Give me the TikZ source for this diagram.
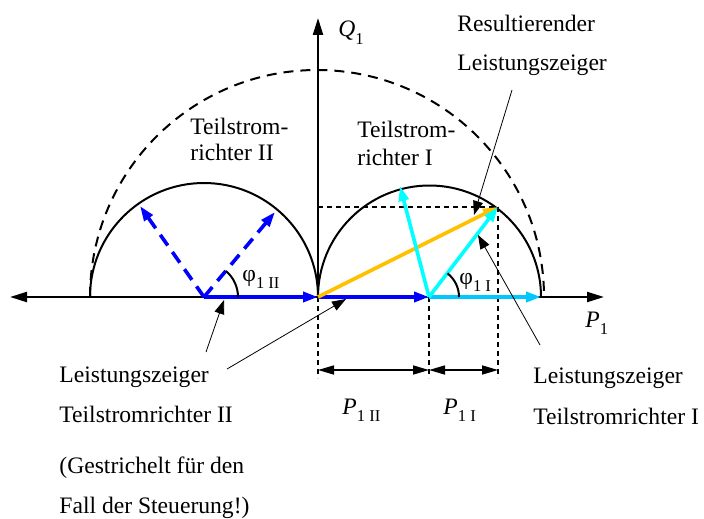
\documentclass[tikz,border=0pt]{standalone}
\usepackage{fontspec}
\setmainfont{Liberation Serif}
\usetikzlibrary{arrows.meta}
\newcommand{\lsub}[1]{\raisebox{-0.3em}{\fontsize{8.3pt}{8.3pt}\selectfont #1}}
\definecolor{vblue}{RGB}{0,0,255}
\definecolor{vcyan}{RGB}{0,255,255}
\definecolor{vsky}{RGB}{0,200,255}
\definecolor{vyellow}{RGB}{255,192,0}
\begin{document}
\begin{tikzpicture}[x=0.5pt,y=-0.5pt,
  txt/.style={anchor=base west,inner sep=0pt,font=\fontsize{11.8pt}{14pt}\selectfont},
  axisline/.style={line width=1.1pt},
  tipbig/.style={},
  circ/.style={line width=1pt},
  bigcirc/.style={line width=1pt,dash pattern=on 5pt off 3.5pt},
  helpline/.style={line width=0.55pt,dash pattern=on 2.5pt off 2pt},
  vec/.style={line width=1.8pt,-{Triangle[length=7.5pt,width=5pt]}},
  dvec/.style={vec,dash pattern=on 6.5pt off 4pt},
  ptr/.style={line width=0.4pt,-{Triangle[length=7pt,width=5pt]}},
  dimline/.style={line width=0.8pt,{Triangle[length=8pt,width=4.5pt]}-{Triangle[length=8pt,width=4.5pt]}},
  ang/.style={line width=1pt}
]
\useasboundingbox (0,0) rectangle (704,518);
% key points
\coordinate (O) at (318,297);
\coordinate (CL) at (204,297);
\coordinate (CR) at (429,297);
\coordinate (T) at (498,207);
\coordinate (TQ) at (318,207);
\coordinate (XL) at (10,297);
\coordinate (XR) at (604,297);
\coordinate (YT) at (318,18);
\coordinate (LL) at (90,297);
\coordinate (RR) at (541,297);
\coordinate (DL1) at (140,206);
\coordinate (DL2) at (275,212);
\coordinate (CU) at (400,186);
\coordinate (OD) at (318,378);
\coordinate (CRD) at (429,378);
\coordinate (TD) at (498,378);
\coordinate (D1) at (318,370);
\coordinate (D2) at (429,370);
\coordinate (D3) at (498,370);
% circles
\draw[bigcirc] (LL) arc[start angle=180,end angle=360,radius=227];
\draw[circ] (LL) arc[start angle=180,end angle=360,radius=114];
\draw[circ] (O) arc[start angle=180,end angle=360,radius=111.5];
% helper dashed lines
\draw[helpline] (TQ) -- (T);
\draw[helpline] (O) -- (OD);
\draw[helpline] (CR) -- (CRD);
\draw[helpline] (T) -- (TD);
% axes
\draw[axisline,{Triangle[length=8.5pt,width=5pt]}-{Triangle[length=8.5pt,width=5pt]}] (XL) -- (XR);
\draw[axisline,-{Triangle[length=8.5pt,width=5pt]}] (O) -- (YT);
% dimension arrows
\draw[dimline] (D1) -- (D2);
\draw[dimline] (D2) -- (D3);
% vectors
\draw[dvec,vblue] (CL) -- (DL1);
\draw[dvec,vblue] (CL) -- (DL2);
\draw[vec,vblue] (CL) -- (O);
\draw[vec,vblue] (O) -- (CR);
\draw[vec,vyellow] (O) -- (T);
\draw[vec,vsky] (CR) -- (RR);
\draw[vec,vcyan] (CR) -- (T);
\draw[vec,vcyan] (CR) -- (CU);
% angle arcs
\draw[ang] (238,297) arc[start angle=0,end angle=-50,radius=34];
\draw[ang] (459,297) arc[start angle=0,end angle=-52,radius=30];
% labels
\node[txt] (q1) at (338,37) {\textit{Q}\lsub{1}};
\node[txt] (p1) at (585,327) {\textit{P}\lsub{1}};
\node[txt] (p1ii) at (342,414) {\textit{P}\lsub{1 II}};
\node[txt] (p1i) at (443,414) {\textit{P}\lsub{1 I}};
\node[txt] (phiii) at (242,281) {φ\lsub{1 II}};
\node[txt] (phii) at (459,284) {φ\lsub{1 I}};
\node[txt] (res1) at (457,32) {Resultierender};
\node[txt] (res2) at (457,71) {Leistungszeiger};
\node[txt] (tl1) at (190,134) {Teilstrom-};
\node[txt] (tl2) at (190,161) {richter II};
\node[txt] (tr1) at (357,138) {Teilstrom-};
\node[txt] (tr2) at (357,165) {richter I};
\node[txt] (ll1) at (59,382) {Leistungszeiger};
\node[txt] (ll2) at (59,422) {Teilstromrichter II};
\node[txt] (ll3) at (59,473) {(Gestrichelt für den};
\node[txt] (ll4) at (59,513) {Fall der Steuerung!)};
\node[txt] (lr1) at (533,383) {Leistungszeiger};
\node[txt] (lr2) at (533,424) {Teilstromrichter I};
% pointers
\coordinate (pa) at (512,90);
\coordinate (pat) at (474,215);
\coordinate (pb) at (540,345);
\coordinate (pbt) at (478,235);
\coordinate (pc) at (206,352);
\coordinate (pct) at (224,300);
\coordinate (pd) at (227,369);
\coordinate (pdt) at (346,299);
\draw[ptr] (pa) -- (pat);
\draw[ptr] (pb) -- (pbt);
\draw[ptr] (pc) -- (pct);
\draw[ptr] (pd) -- (pdt);
\end{tikzpicture}
\end{document}
